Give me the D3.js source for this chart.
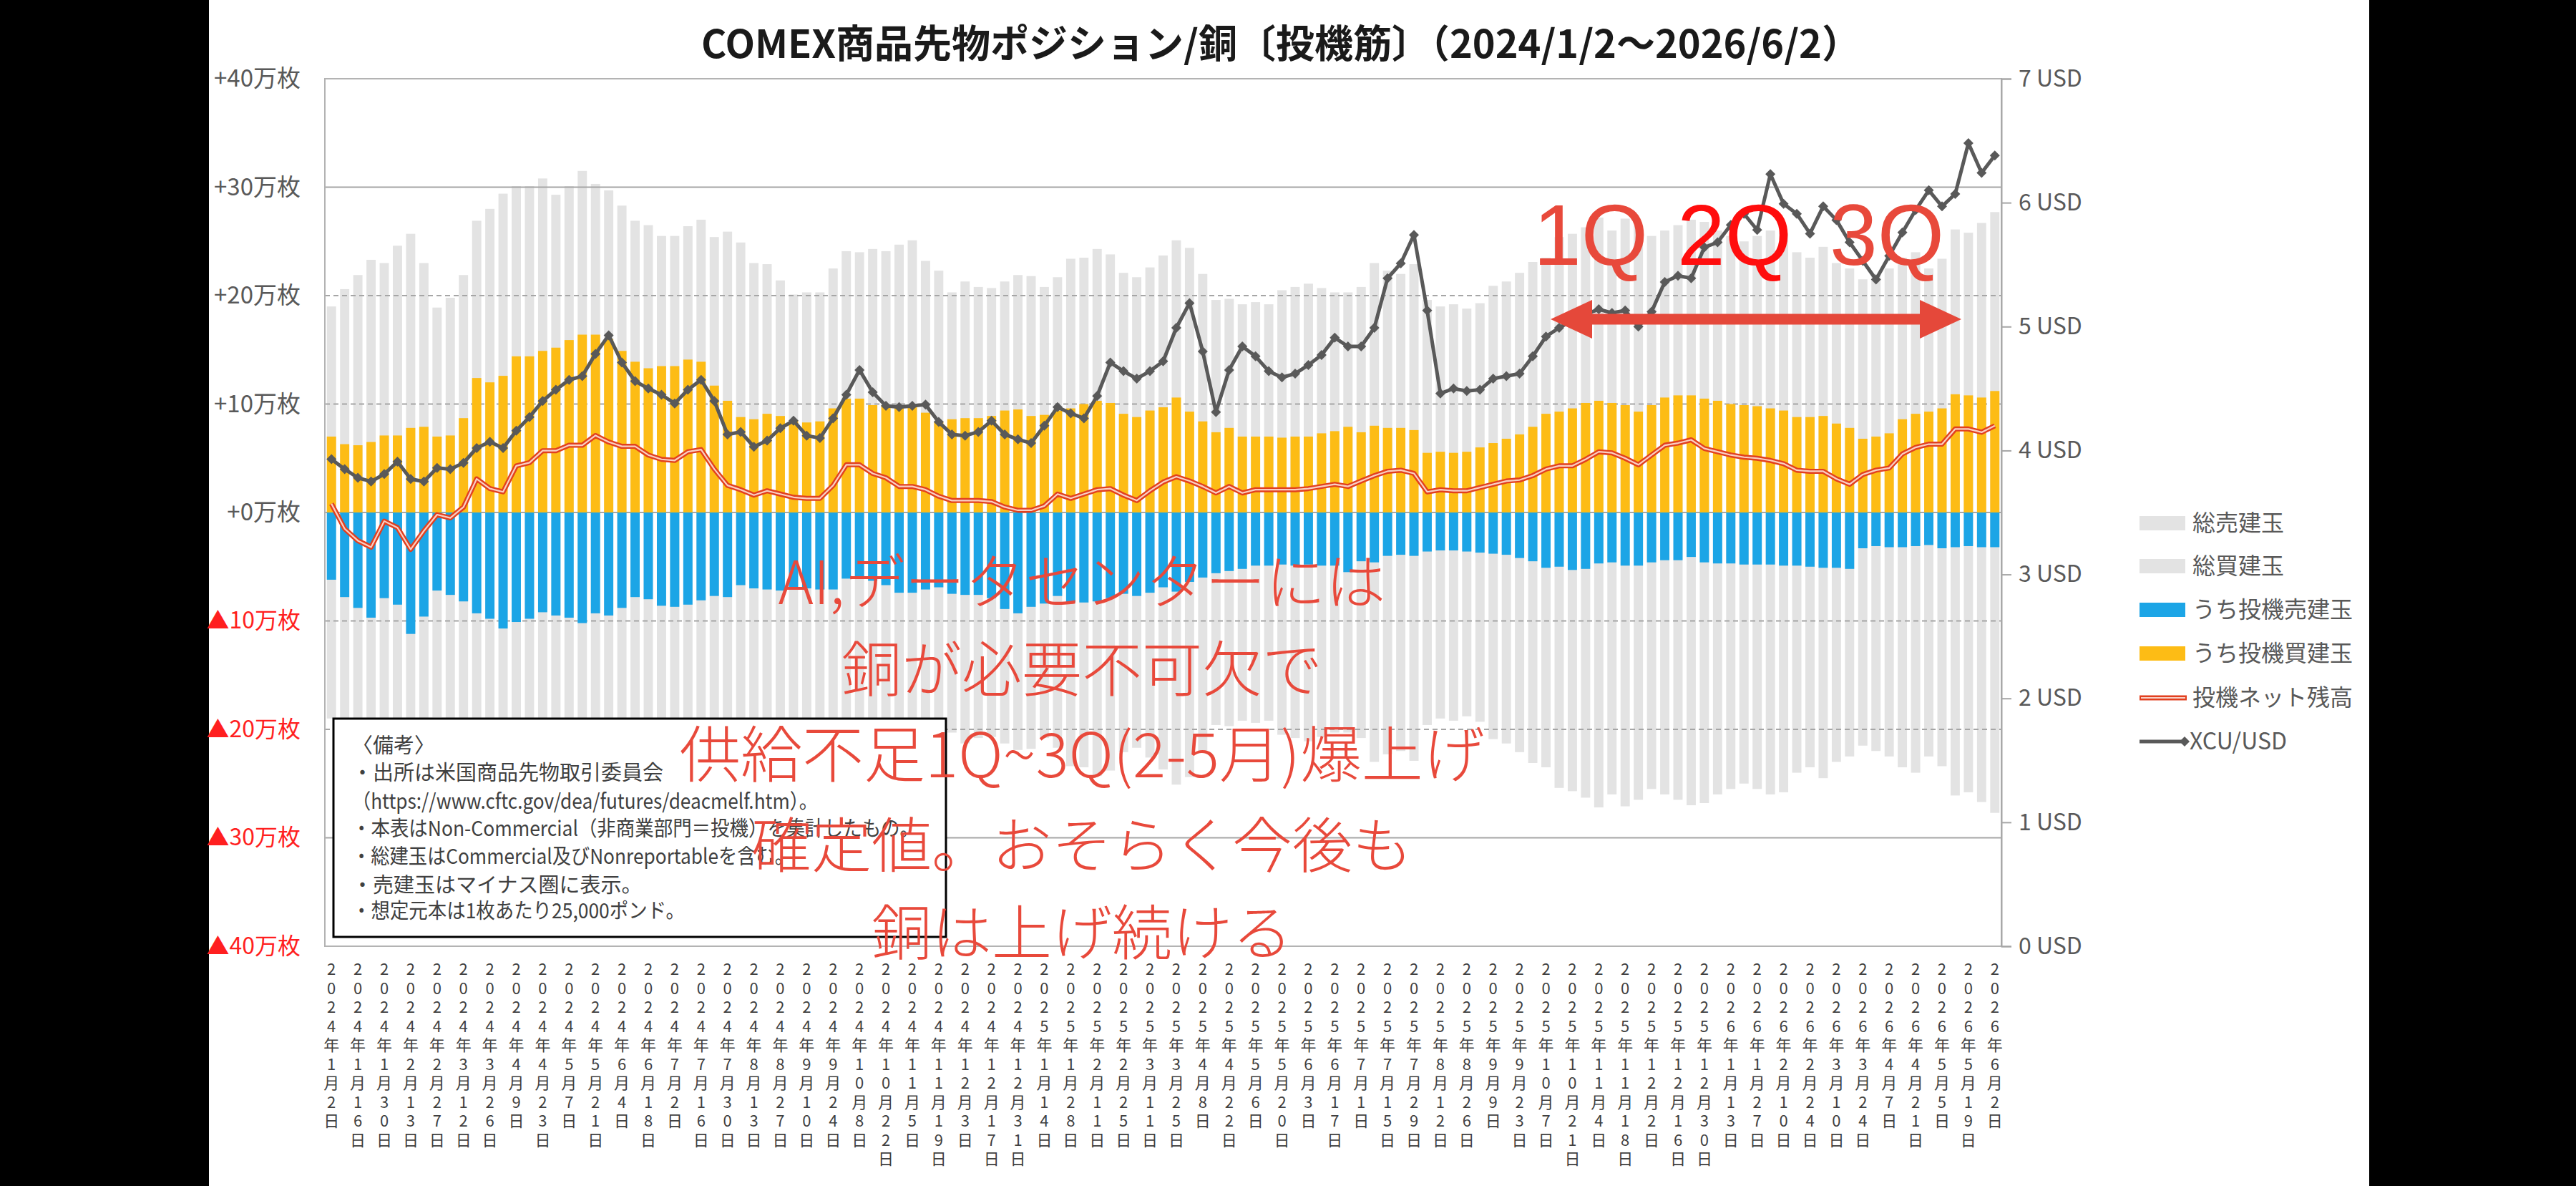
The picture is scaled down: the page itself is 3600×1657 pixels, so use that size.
<!DOCTYPE html>
<html>
<head>
<meta charset="utf-8">
<script src="https://cdn.jsdelivr.net/npm/d3@7"></script>
<style>
  body { margin: 0; background: #fff; }
  svg { display: block; }
</style>
</head>
<body>
<svg id="chart" width="3600" height="1657"></svg>
<script>
// weekly report dates (Tuesdays)
const weeks = [
  "2024-01-02","2024-01-09","2024-01-16","2024-01-23","2024-01-30","2024-02-06","2024-02-13","2024-02-20","2024-02-27","2024-03-05",
  "2024-03-12","2024-03-19","2024-03-26","2024-04-02","2024-04-09","2024-04-16","2024-04-23","2024-04-30","2024-05-07","2024-05-14",
  "2024-05-21","2024-05-28","2024-06-04","2024-06-11","2024-06-18","2024-06-25","2024-07-02","2024-07-09","2024-07-16","2024-07-23",
  "2024-07-30","2024-08-06","2024-08-13","2024-08-20","2024-08-27","2024-09-03","2024-09-10","2024-09-17","2024-09-24","2024-10-01",
  "2024-10-08","2024-10-15","2024-10-22","2024-10-29","2024-11-05","2024-11-12","2024-11-19","2024-11-26","2024-12-03","2024-12-10",
  "2024-12-17","2024-12-24","2024-12-31","2025-01-07","2025-01-14","2025-01-21","2025-01-28","2025-02-04","2025-02-11","2025-02-18",
  "2025-02-25","2025-03-04","2025-03-11","2025-03-18","2025-03-25","2025-04-01","2025-04-08","2025-04-15","2025-04-22","2025-04-29",
  "2025-05-06","2025-05-13","2025-05-20","2025-05-27","2025-06-03","2025-06-10","2025-06-17","2025-06-24","2025-07-01","2025-07-08",
  "2025-07-15","2025-07-22","2025-07-29","2025-08-05","2025-08-12","2025-08-19","2025-08-26","2025-09-02","2025-09-09","2025-09-16",
  "2025-09-23","2025-09-30","2025-10-07","2025-10-14","2025-10-21","2025-10-28","2025-11-04","2025-11-11","2025-11-18","2025-11-25",
  "2025-12-02","2025-12-09","2025-12-16","2025-12-23","2025-12-30","2026-01-06","2026-01-13","2026-01-20","2026-01-27","2026-02-03",
  "2026-02-10","2026-02-17","2026-02-24","2026-03-03","2026-03-10","2026-03-17","2026-03-24","2026-03-31","2026-04-07","2026-04-14",
  "2026-04-21","2026-04-28","2026-05-05","2026-05-12","2026-05-19","2026-05-26","2026-06-02"
];

// labels shown under every other week
const tickLabels = [
  "2024年1月2日","2024年1月16日","2024年1月30日","2024年2月13日","2024年2月27日","2024年3月12日","2024年3月26日",
  "2024年4月9日","2024年4月23日","2024年5月7日","2024年5月21日","2024年6月4日","2024年6月18日","2024年7月2日",
  "2024年7月16日","2024年7月30日","2024年8月13日","2024年8月27日","2024年9月10日","2024年9月24日","2024年10月8日",
  "2024年10月22日","2024年11月5日","2024年11月19日","2024年12月3日","2024年12月17日","2024年12月31日",
  "2025年1月14日","2025年1月28日","2025年2月11日","2025年2月25日","2025年3月11日","2025年3月25日","2025年4月8日",
  "2025年4月22日","2025年5月6日","2025年5月20日","2025年6月3日","2025年6月17日","2025年7月1日","2025年7月15日",
  "2025年7月29日","2025年8月12日","2025年8月26日","2025年9月9日","2025年9月23日","2025年10月7日","2025年10月21日",
  "2025年11月4日","2025年11月18日","2025年12月2日","2025年12月16日","2025年12月30日",
  "2026年1月13日","2026年1月27日","2026年2月10日","2026年2月24日","2026年3月10日","2026年3月24日","2026年4月7日",
  "2026年4月21日","2026年5月5日","2026年5月19日","2026年6月2日"
];

// positions in 万枚 (10,000 contracts)
const totalLong = [
  19.0,20.6,21.9,23.3,23.0,24.6,25.7,23.0,18.9,19.8, 21.9,26.9,28.0,29.4,30.1,30.1,30.8,29.3,30.1,31.5,
  30.3,29.7,28.3,26.9,26.5,25.5,25.5,26.4,27.0,25.4, 25.9,24.9,23.0,22.9,21.4,20.1,20.3,20.3,22.5,24.1,
  24.0,24.3,24.1,24.7,25.1,23.2,22.3,20.3,21.3,20.8, 20.7,21.3,21.9,21.8,20.8,21.7,23.4,23.5,24.3,23.8,
  22.1,21.7,22.6,23.7,25.1,24.4,22.0,19.6,19.7,19.2, 19.4,19.2,20.5,20.8,21.1,20.7,20.3,20.3,20.8,23.0,
  22.3,22.0,22.9,19.6,19.0,19.2,18.8,19.3,20.9,21.3, 22.1,23.1,23.5,25.4,25.7,26.3,27.2,26.0,27.1,26.5,
  25.5,26.0,26.5,27.0,26.8,26.0,25.5,25.0,25.5,26.0, 25.8,24.0,23.5,24.5,23.0,22.5,21.5,22.0,22.5,23.5,
  24.0,22.5,23.4,26.1,25.8,26.7,27.7
];
const totalShort = [
  19.0,20.6,21.9,23.3,23.0,24.6,25.7,23.0,18.9,19.8, 21.9,26.9,28.0,29.4,30.1,30.1,30.8,29.3,30.1,31.5,
  30.3,29.7,28.3,26.9,26.5,25.5,25.5,26.4,27.0,25.4, 25.9,24.9,23.0,22.9,21.4,20.1,20.3,20.3,22.5,24.1,
  24.0,24.3,24.1,24.7,25.1,23.2,22.3,20.3,21.3,20.8, 20.7,21.3,21.9,21.8,20.8,21.7,23.4,23.5,24.3,23.8,
  22.1,21.7,22.6,23.7,25.1,24.4,22.0,19.6,19.7,19.2, 19.4,19.2,20.5,20.8,21.1,20.7,20.3,20.3,20.8,23.0,
  22.3,22.0,22.9,19.6,19.0,19.2,18.8,19.3,20.9,21.3, 22.1,23.1,23.5,25.4,25.7,26.3,27.2,26.0,27.1,26.5,
  25.5,26.0,26.5,27.0,26.8,26.0,25.5,25.0,25.5,26.0, 25.8,24.0,23.5,24.5,23.0,22.5,21.5,22.0,22.5,23.5,
  24.0,22.5,23.4,26.1,25.8,26.7,27.7
];
const specLong = [
  7.0,6.3,6.2,6.5,7.1,7.1,7.8,7.9,7.0,7.1, 8.7,12.4,12.0,12.6,14.4,14.4,14.9,15.2,15.9,16.4,
  16.4,16.0,14.9,13.9,13.3,13.5,13.5,14.1,13.9,11.7, 10.3,8.8,8.6,9.1,8.9,8.4,8.3,8.4,9.6,10.5,
  10.5,9.9,9.9,9.8,9.8,9.2,8.4,8.6,8.7,8.7, 8.9,9.4,9.5,8.9,9.0,9.4,9.6,10.0,10.3,10.1,
  9.1,8.8,9.4,9.7,10.6,9.3,8.4,7.4,7.8,7.0, 7.0,7.0,6.9,7.0,7.0,7.3,7.5,7.9,7.4,8.0,
  7.8,7.8,7.6,5.5,5.6,5.5,5.6,6.0,6.4,6.8, 7.2,7.9,9.1,9.3,9.6,10.1,10.3,10.1,9.9,9.3,
  9.9,10.6,10.8,10.8,10.5,10.3,10.0,9.9,9.8,9.6, 9.4,8.8,8.8,8.9,8.2,7.8,6.8,7.0,7.3,8.6,
  9.1,9.3,9.6,10.9,10.8,10.6,11.2
];
const specShort = [
  6.2,7.8,8.8,9.7,7.9,8.5,11.2,9.6,7.2,7.6, 8.2,9.3,9.8,10.7,10.1,9.8,9.2,9.5,9.7,10.2,
  9.3,9.5,8.8,7.8,8.0,8.6,8.7,8.5,8.1,7.7, 7.8,6.7,7.0,7.1,7.2,7.0,7.0,7.1,7.1,6.1,
  6.1,6.3,6.7,7.4,7.4,7.1,6.9,7.5,7.6,7.6, 7.9,8.9,9.3,8.7,8.4,7.7,8.3,8.3,8.2,7.9,
  7.5,7.7,7.4,6.9,7.3,6.4,6.0,5.6,5.4,5.2, 4.9,4.9,4.8,4.9,4.8,4.9,4.9,5.5,4.5,4.6,
  4.0,3.9,4.0,3.6,3.5,3.5,3.6,3.7,3.8,3.9, 4.2,4.5,5.1,5.0,5.3,5.2,4.7,4.6,4.9,4.9,
  4.6,4.4,4.4,4.1,4.6,4.7,4.7,4.8,4.8,4.8, 4.9,4.9,5.0,5.1,5.1,5.2,3.3,3.1,3.2,3.2,
  3.1,3.0,3.3,3.2,3.1,3.2,3.2
];
// XCU/USD
const price = [
  3.93,3.85,3.78,3.75,3.81,3.91,3.77,3.75,3.86,3.85, 3.90,4.02,4.07,4.02,4.16,4.27,4.40,4.49,4.57,4.60,
  4.78,4.93,4.71,4.56,4.50,4.45,4.38,4.49,4.57,4.40, 4.13,4.15,4.03,4.08,4.18,4.24,4.12,4.10,4.26,4.45,
  4.65,4.47,4.36,4.35,4.36,4.37,4.23,4.13,4.12,4.15, 4.24,4.13,4.09,4.06,4.20,4.35,4.30,4.26,4.44,4.71,
  4.64,4.58,4.64,4.72,4.99,5.19,4.80,4.31,4.65,4.84, 4.76,4.64,4.59,4.62,4.69,4.77,4.91,4.84,4.84,4.99,
  5.39,5.51,5.74,5.13,4.46,4.50,4.48,4.49,4.58,4.60, 4.62,4.76,4.92,4.99,5.05,5.10,5.14,5.11,5.13,5.00,
  5.12,5.36,5.41,5.39,5.64,5.68,5.82,5.91,5.78,6.23, 5.99,5.91,5.75,5.97,5.86,5.68,5.53,5.38,5.57,5.76,
  5.94,6.10,5.97,6.07,6.48,6.24,6.38
];

const leftTicks = [40, 30, 20, 10, 0, -10, -20, -30, -40];
const rightTicks = [0, 1, 2, 3, 4, 5, 6, 7];

const font = "'Noto Sans CJK JP', 'Noto Sans', sans-serif";
const W = 3600, H = 1657;
const plot = { left: 454, right: 2797, top: 110, bottom: 1322 };

const svg = d3.select("#chart");

// phone screenshot side bands
svg.append("rect").attr("x", 0).attr("y", 0).attr("width", 292).attr("height", H).attr("fill", "#000");
svg.append("rect").attr("x", 3311).attr("y", 0).attr("width", W - 3311).attr("height", H).attr("fill", "#000");

const rows = weeks.map((w, i) => ({
  w, tl: totalLong[i], ts: totalShort[i], sl: specLong[i], ss: specShort[i],
  net: specLong[i] - specShort[i], px: price[i]
}));

const x = d3.scaleBand().domain(weeks).range([plot.left, plot.right]).paddingInner(0.3).paddingOuter(0.15);
const y = d3.scaleLinear().domain([-40, 40]).range([plot.bottom, plot.top]);
const y2 = d3.scaleLinear().domain([0, 7]).range([plot.bottom, plot.top]);
const cx = d => x(d.w) + x.bandwidth() / 2;

// title
svg.append("text")
  .attr("x", 1790).attr("y", 81)
  .attr("text-anchor", "middle")
  .attr("font-family", font).attr("font-weight", 700).attr("font-size", 54)
  .attr("fill", "#1a1a1a")
  .text("COMEX商品先物ポジション/銅〔投機筋〕（2024/1/2～2026/6/2）");

// gray total bars (behind the grid lines)
const gBars = svg.append("g");
gBars.selectAll("rect.tl").data(rows).join("rect")
  .attr("x", d => x(d.w)).attr("width", x.bandwidth())
  .attr("y", d => y(d.tl)).attr("height", d => y(0) - y(d.tl))
  .attr("fill", "#e3e3e3");
gBars.selectAll("rect.ts").data(rows).join("rect")
  .attr("x", d => x(d.w)).attr("width", x.bandwidth())
  .attr("y", y(0)).attr("height", d => y(-d.ts) - y(0))
  .attr("fill", "#e3e3e3");

// grid
svg.append("g").selectAll("line").data(leftTicks).join("line")
  .attr("x1", plot.left).attr("x2", plot.right)
  .attr("y1", d => y(d)).attr("y2", d => y(d))
  .attr("stroke", "#a6a6a6").attr("stroke-width", 2)
  .attr("stroke-dasharray", d => (Math.abs(d) === 10 || Math.abs(d) === 20) ? "7,5" : null);
svg.append("rect")
  .attr("x", plot.left).attr("y", plot.top)
  .attr("width", plot.right - plot.left).attr("height", plot.bottom - plot.top)
  .attr("fill", "none").attr("stroke", "#b3b3b3").attr("stroke-width", 2);

// speculative bars
const sBars = svg.append("g");
sBars.selectAll("rect.sl").data(rows).join("rect")
  .attr("x", d => x(d.w)).attr("width", x.bandwidth())
  .attr("y", d => y(d.sl)).attr("height", d => y(0) - y(d.sl))
  .attr("fill", "#fdbc15");
sBars.selectAll("rect.ss").data(rows).join("rect")
  .attr("x", d => x(d.w)).attr("width", x.bandwidth())
  .attr("y", y(0)).attr("height", d => y(-d.ss) - y(0))
  .attr("fill", "#1ca5e6");

// net line: red with light core
const netLine = d3.line().x(cx).y(d => y(d.net));
svg.append("path").datum(rows).attr("d", netLine)
  .attr("fill", "none").attr("stroke", "#e2401f").attr("stroke-width", 7).attr("stroke-linejoin", "round");
svg.append("path").datum(rows).attr("d", netLine)
  .attr("fill", "none").attr("stroke", "#f9cfc4").attr("stroke-width", 2.2).attr("stroke-linejoin", "round");

// price line with diamonds
const diamond = "M0,-7L7,0L0,7L-7,0Z";
svg.append("path").datum(rows)
  .attr("d", d3.line().x(cx).y(d => y2(d.px)))
  .attr("fill", "none").attr("stroke", "#595959").attr("stroke-width", 5).attr("stroke-linejoin", "round");
svg.append("g").selectAll("path").data(rows).join("path")
  .attr("d", diamond)
  .attr("transform", d => `translate(${cx(d)},${y2(d.px)})`)
  .attr("fill", "#595959");

// left axis labels
const axL = svg.append("g").attr("transform", `translate(${plot.left},0)`)
  .call(d3.axisLeft(y).tickValues(leftTicks).tickSize(0).tickPadding(34)
    .tickFormat(d => d >= 0 ? `+${d}万枚` : `▲${-d}万枚`));
axL.select(".domain").remove();
axL.selectAll("text")
  .attr("font-family", font).attr("font-size", d => d < 0 ? 32 : 33)
  .attr("fill", d => d < 0 ? "#ff1f1f" : "#595959");

// right axis
const axR = svg.append("g").attr("transform", `translate(${plot.right},0)`)
  .call(d3.axisRight(y2).tickValues(rightTicks).tickSize(14).tickPadding(10)
    .tickFormat(d => `${d} USD`));
axR.select(".domain").attr("stroke", "#a6a6a6").attr("stroke-width", 2);
axR.selectAll(".tick line").attr("stroke", "#a6a6a6").attr("stroke-width", 2);
axR.selectAll("text").attr("font-family", font).attr("font-size", 32).attr("fill", "#595959");

// x labels, one character per row
const xl = svg.append("g");
tickLabels.forEach((lab, k) => {
  const w = weeks[k * 2];
  const t = xl.append("text")
    .attr("font-family", font).attr("font-size", 22).attr("fill", "#404040")
    .attr("text-anchor", "middle");
  Array.from(lab).forEach((ch, j) => {
    t.append("tspan").attr("x", x(w) + x.bandwidth() / 2).attr("y", 1362 + j * 26.5).text(ch);
  });
});

// note box
const note = svg.append("g");
note.append("rect").attr("x", 466).attr("y", 1004).attr("width", 856).attr("height", 305)
  .attr("fill", "#fff").attr("stroke", "#000").attr("stroke-width", 3);
const noteLines = [
  ["〈備考〉", null],
  ["・出所は米国商品先物取引委員会", null],
  ["（https://www.cftc.gov/dea/futures/deacmelf.htm）。", 651],
  ["・本表はNon-Commercial（非商業部門＝投機）を集計したもの。", 792],
  ["・総建玉はCommercial及びNonreportableを含む。", 617],
  ["・売建玉はマイナス圏に表示。", null],
  ["・想定元本は1枚あたり25,000ポンド。", 465]
];
const noteY = [1042, 1080, 1120, 1158, 1197, 1237, 1273];
noteLines.forEach(([s, len], i) => {
  const t = note.append("text").attr("x", 492).attr("y", noteY[i] + 10)
    .attr("font-family", font).attr("font-size", 29).attr("fill", "#404040").text(s);
  if (len) t.attr("textLength", len).attr("lengthAdjust", "spacingAndGlyphs");
});

// red hand-written style annotations
const annRed = "#e8493b";
const annLines = ["AI,データセンターには", "銅が必要不可欠で", "供給不足1Q~3Q(2-5月)爆上げ", "確定値。おそらく今後も", "銅は上げ続ける"];
const annY = [815, 937, 1057, 1183, 1305];
annLines.forEach((s, i) => {
  svg.append("text").attr("x", 1512).attr("y", annY[i] + 29)
    .attr("text-anchor", "middle")
    .attr("font-family", font).attr("font-weight", 300).attr("font-size", i === 2 ? 86 : 84)
    .attr("fill", annRed).text(s);
});

const qLabels = [["1Q", 2143, annRed], ["2Q", 2344, "#ff0d0d"], ["3Q", 2557, annRed]];
qLabels.forEach(([s, qx, c]) => {
  svg.append("text").attr("x", qx).attr("y", 370)
    .attr("font-family", "'Liberation Sans', Arial, sans-serif").attr("font-size", 120)
    .attr("fill", c).text(s);
});

// double headed arrow
const ax0 = 2167, ax1 = 2741, ay = 446, sh = 7.5, hl = 58, hh = 27;
svg.append("path")
  .attr("d", `M${ax0},${ay} L${ax0 + hl},${ay - hh} L${ax0 + hl},${ay - sh} L${ax1 - hl},${ay - sh} L${ax1 - hl},${ay - hh} L${ax1},${ay} L${ax1 - hl},${ay + hh} L${ax1 - hl},${ay + sh} L${ax0 + hl},${ay + sh} L${ax0 + hl},${ay + hh} Z`)
  .attr("fill", "#e5483a");

// legend
const lg = svg.append("g");
const lgY = [731, 791, 852, 913, 975, 1036];
const lgText = ["総売建玉", "総買建玉", "うち投機売建玉", "うち投機買建玉", "投機ネット残高", "XCU/USD"];
const lgFill = ["#e3e3e3", "#e3e3e3", "#1ca5e6", "#fdbc15"];
lgFill.forEach((c, i) => {
  lg.append("rect").attr("x", 2990).attr("y", lgY[i] - 10).attr("width", 64).attr("height", 20).attr("fill", c);
});
lg.append("line").attr("x1", 2990).attr("x2", 3056).attr("y1", lgY[4]).attr("y2", lgY[4])
  .attr("stroke", "#e2401f").attr("stroke-width", 7);
lg.append("line").attr("x1", 2992).attr("x2", 3054).attr("y1", lgY[4]).attr("y2", lgY[4])
  .attr("stroke", "#f9cfc4").attr("stroke-width", 2.2);
lg.append("line").attr("x1", 2990).attr("x2", 3052).attr("y1", lgY[5]).attr("y2", lgY[5])
  .attr("stroke", "#595959").attr("stroke-width", 5);
lg.append("path").attr("d", diamond).attr("transform", `translate(3053,${lgY[5]})`).attr("fill", "#595959");
lgText.forEach((s, i) => {
  lg.append("text").attr("x", i === 5 ? 3060 : 3064).attr("y", lgY[i] + 11)
    .attr("font-family", font).attr("font-size", 32).attr("fill", "#595959").text(s);
});
</script>
</body>
</html>
